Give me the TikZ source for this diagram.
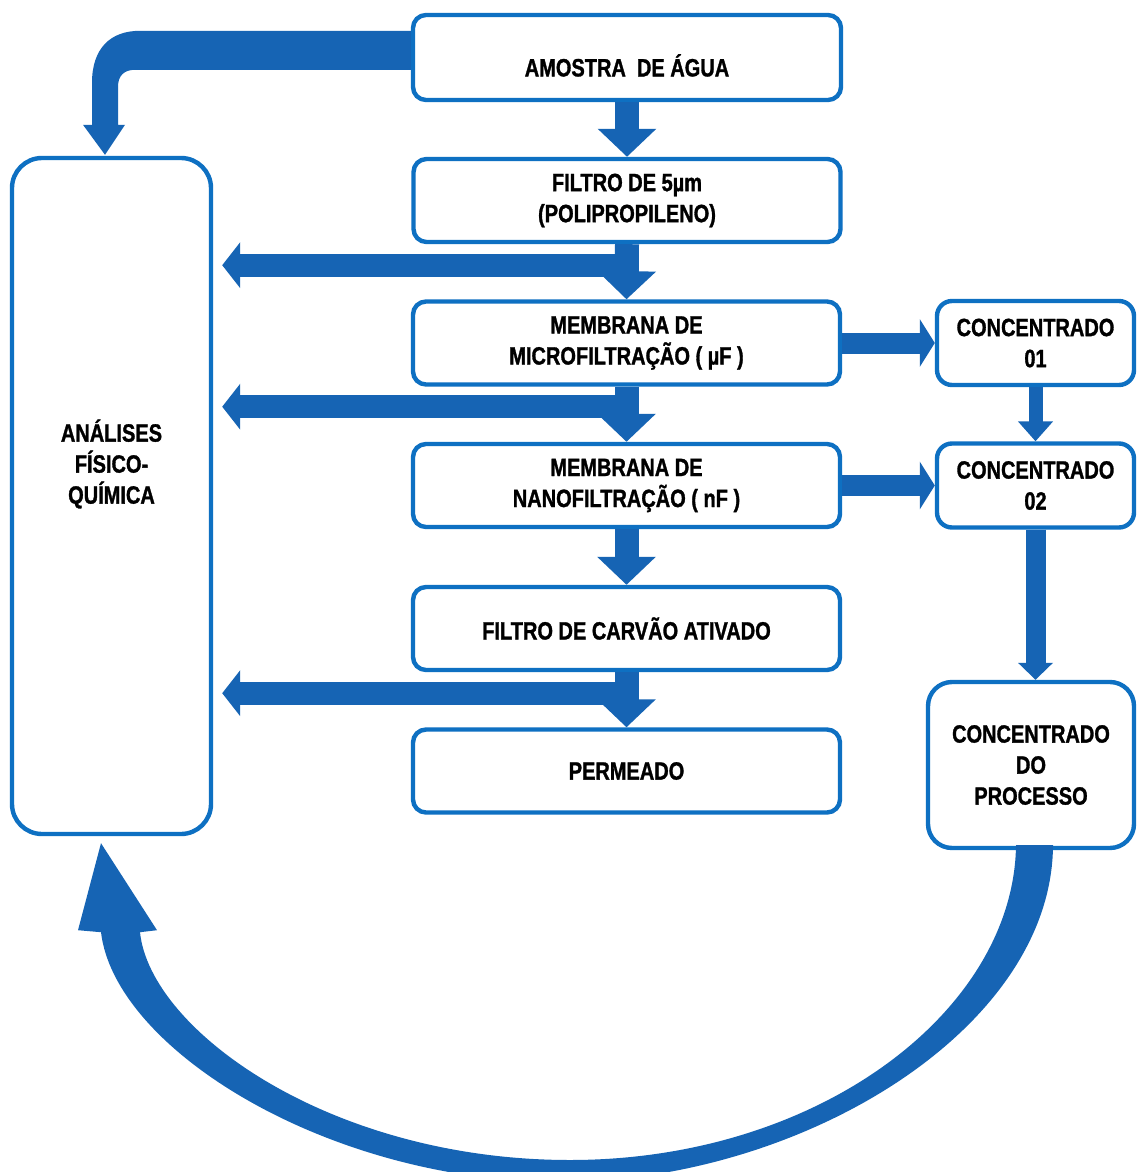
\documentclass[tikz,border=0pt]{standalone}
\usepackage{fontspec}
\setmainfont{Liberation Sans}[FakeStretch=0.8, BoldFeatures={FakeBold=1.2}]
\usetikzlibrary{arrows.meta,calc}
\definecolor{boxblue}{RGB}{14,112,194}
\definecolor{arrowblue}{RGB}{22,100,180}
\newcommand\diagfont{\bfseries\fontsize{12.5pt}{15.5pt}\selectfont}
\begin{document}
\begin{tikzpicture}[x=0.5pt,y=-0.5pt,
  box/.style={draw=boxblue, line width=2.2pt, rounded corners=6.5pt, fill=white,
    align=center, font=\diagfont, text=black, inner sep=0pt},
  mainbox/.style={box, minimum width=213.5pt, minimum height=41.5pt},
  sidebox/.style={box, minimum width=98.5pt, minimum height=42pt, rounded corners=7.5pt},
  downarrow/.style={draw=arrowblue, line width=12pt,
    -{Triangle[width=28.5pt,length=14pt]}},
  leftarrow/.style={draw=arrowblue, line width=11.5pt, shorten >=4.5pt,
    -{Triangle[width=22.5pt,length=9pt]}},
  rightarrow/.style={draw=arrowblue, line width=10.5pt,
    -{Triangle[width=23.5pt,length=7.5pt]}},
  sidearrow/.style={draw=arrowblue, line width=7pt,
    -{Triangle[width=17pt,length=10pt]}},
  flowfill/.style={fill=arrowblue}]

\fill[white] (0,0) rectangle (1136,1172);
\useasboundingbox (0,0) rectangle (1136,1172);

% process boxes
\node[box, minimum width=214pt, minimum height=42.5pt] (amostra) at (627,57.5)
  {\rule{0pt}{19pt}AMOSTRA\ \ DE ÁGUA};
\node[mainbox] (filtro) at (627,200.5) {FILTRO DE 5µm\\(POLIPROPILENO)};
\node[mainbox] (micro) at (626.5,343) {MEMBRANA DE\\MICROFILTRAÇÃO ( µF )};
\node[mainbox] (nano) at (626.5,485.5) {MEMBRANA DE\\NANOFILTRAÇÃO ( nF )};
\node[mainbox] (carvao) at (626.5,628.5) {FILTRO DE CARVÃO ATIVADO};
\node[mainbox] (permeado) at (626.5,771) {PERMEADO};

% analysis column
\node[box, minimum width=99.5pt, minimum height=338pt, rounded corners=15pt]
  (analises) at (111.5,496) {};
\node[font=\diagfont, align=center, inner sep=0pt] (analisestxt) at (111.5,464)
  {ANÁLISES\\FÍSICO-\\QUÍMICA};

% concentrate boxes
\node[sidebox] (conc01) at (1035.5,343) {CONCENTRADO\\01};
\node[sidebox] (conc02) at (1035.5,485.5) {CONCENTRADO\\02};
\node[box, minimum width=103pt, minimum height=83pt, rounded corners=12pt]
  (concproc) at (1031,765) {CONCENTRADO\\DO\\PROCESSO};

% branches towards the analysis column
\coordinate (j1) at ($(filtro.south)+(0,21)$);
\coordinate (j2) at ($(micro.south)+(0,20)$);
\coordinate (j3) at ($(carvao.south)+(0,21)$);
\draw[leftarrow] (j1) -- (j1 -| analises.east);
\draw[leftarrow] (j2) -- (j2 -| analises.east);
\draw[leftarrow] (j3) -- (j3 -| analises.east);

% main flow
\draw[downarrow] (amostra.south) -- (filtro.north);
\draw[downarrow] (filtro.south) -- (micro.north);
\draw[downarrow] (micro.south) -- (nano.north);
\draw[downarrow] (nano.south) -- (carvao.north);
\draw[downarrow] (carvao.south) -- (permeado.north);

% concentrate flow
\draw[rightarrow] (micro.east) -- (conc01.west);
\draw[rightarrow] (nano.east) -- (conc02.west);
\draw[sidearrow] (conc01.south) -- (conc02.north);
\draw[draw=arrowblue, line width=10pt, -{Triangle[width=17pt,length=8.5pt]}]
  (conc02.south) -- (conc02.south |- concproc.north);

% bent arrow: water sample to analysis
\coordinate (bs) at (amostra.west);
\coordinate (bt) at ($(analises.north)+(-6.5,-1)$);
\begin{scope}[shift={(bt)}]
\fill[flowfill] (bs |- 0,-124) -- (35,-124)
  .. controls (5,-124) and (-13,-106) .. (-13,-72)
  -- (-13,-30) -- (-22,-30) -- (0,0) -- (20,-30) -- (13,-30) -- (13,-68)
  .. controls (13,-79) and (19,-85) .. (30,-85)
  -- (bs |- 0,-85) -- cycle;
\end{scope}

% curved return arrow: process concentrate to analysis
\coordinate (cs) at (concproc.south);
\coordinate (ct) at ($(analises.south)+(-10.5,7)$);
\fill[flowfill] ($(cs)+(-15,-5)$) -- ($(cs)+(22,-5)$)
  .. controls (1052,1030) and (800,1182) .. (560,1182)
  .. controls (330,1182) and (115,1050) .. ($(ct)+(0,89)$)
  -- ($(ct)+(-23,87)$) -- (ct) -- ($(ct)+(56,87)$) -- ($(ct)+(39,89)$)
  .. controls (150,1030) and (330,1160) .. (570,1160)
  .. controls (820,1160) and (1014,1010) .. ($(cs)+(-15,-5)$) -- cycle;
\end{tikzpicture}
\end{document}
